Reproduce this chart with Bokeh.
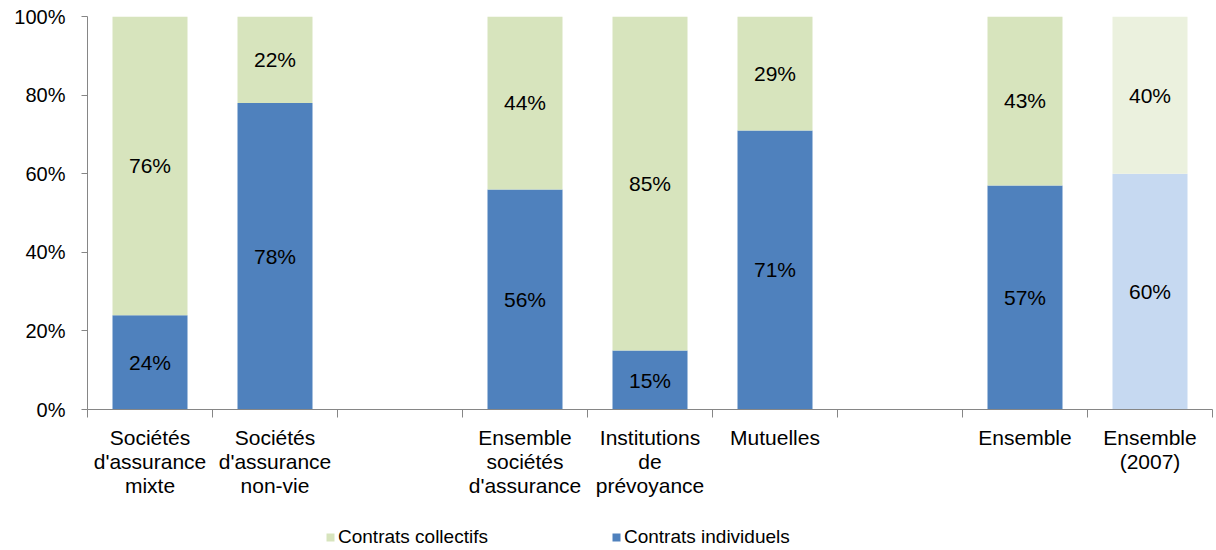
from bokeh.plotting import figure
from bokeh.layouts import column
from bokeh.models import (ColumnDataSource, Range1d, FixedTicker, LinearAxis,
                          Legend, LegendItem)
from bokeh.core.properties import value
from bokeh.embed import file_html
from bokeh.resources import INLINE

# Slots 0..8 on the x axis; slots 2 and 6 are left empty as separators
positions = [0, 1, 3, 4, 5, 7, 8]
categories = ["Sociétés\nd'assurance\nmixte", "Sociétés\nd'assurance\nnon-vie",
              "Ensemble\nsociétés\nd'assurance", "Institutions\nde\nprévoyance",
              "Mutuelles", "Ensemble", "Ensemble\n(2007)"]
individuels = [24, 78, 56, 15, 71, 57, 60]
collectifs = [76, 22, 44, 85, 29, 43, 40]

BLUE, GREEN = "#4F81BD", "#D7E4BD"
BLUE_2007, GREEN_2007 = "#C6D9F1", "#EBF1DE"
FONT = "Liberation Sans"

ind_colors = [BLUE] * 6 + [BLUE_2007]
col_colors = [GREEN] * 6 + [GREEN_2007]

src_ind = ColumnDataSource(dict(
    x=positions, bottom=[0] * len(positions), top=individuels, color=ind_colors,
    mid=[v / 2 for v in individuels], label=[f"{v}%" for v in individuels]))
src_col = ColumnDataSource(dict(
    x=positions, bottom=individuels,
    top=[a + b for a, b in zip(individuels, collectifs)], color=col_colors,
    mid=[a + b / 2 for a, b in zip(individuels, collectifs)],
    label=[f"{v}%" for v in collectifs]))

p = figure(width=1216, height=510, output_backend="svg", toolbar_location=None,
           x_range=Range1d(-0.5, 8.5), y_range=Range1d(0, 100),
           x_axis_type=None, y_axis_type=None,
           min_border_left=87, min_border_right=4, min_border_top=16,
           min_border_bottom=101)
p.outline_line_color = None
p.background_fill_color = "white"
p.border_fill_color = "white"

# Y axis with percent labels
yaxis = LinearAxis(ticker=FixedTicker(ticks=[0, 20, 40, 60, 80, 100]))
yaxis.major_label_overrides = {t: f"{t}%" for t in [0, 20, 40, 60, 80, 100]}
yaxis.axis_line_color = "#868686"
yaxis.major_tick_line_color = "#868686"
yaxis.major_tick_out = 6
yaxis.major_tick_in = 0
yaxis.minor_tick_line_color = None
yaxis.major_label_standoff = 16
yaxis.major_label_text_font = FONT
yaxis.major_label_text_font_size = "20px"
yaxis.major_label_text_color = "black"
p.add_layout(yaxis, "left")

# X axis: labels at slot centers, tick marks at slot boundaries
xaxis = LinearAxis(ticker=FixedTicker(ticks=positions,
                                      minor_ticks=[i - 0.5 for i in range(10)]))
xaxis.major_label_overrides = {pos: lab for pos, lab in zip(positions, categories)}
xaxis.axis_line_color = "#868686"
xaxis.major_tick_line_color = None
xaxis.major_tick_out = 0
xaxis.major_tick_in = 0
xaxis.minor_tick_line_color = "#868686"
xaxis.minor_tick_out = 8
xaxis.minor_tick_in = 0
xaxis.major_label_standoff = 8
xaxis.major_label_text_font = FONT
xaxis.major_label_text_font_size = "21px"
xaxis.major_label_text_line_height = 1.05
xaxis.major_label_text_color = "black"
p.add_layout(xaxis, "below")

p.ygrid.ticker = FixedTicker(ticks=[20, 40, 60, 80, 100])
p.ygrid.grid_line_color = "#808080"
p.ygrid.grid_line_dash = "1 2"
p.ygrid.grid_line_width = 1
p.xgrid.grid_line_color = None

p.vbar(x="x", bottom="bottom", top="top", width=0.6, source=src_ind,
       fill_color="color", line_color=None)
p.vbar(x="x", bottom="bottom", top="top", width=0.6, source=src_col,
       fill_color="color", line_color=None)

for src in (src_ind, src_col):
    p.text(x="x", y="mid", text="label", source=src, text_align="center",
           text_baseline="middle", text_font=value(FONT),
           text_font_size="21px", text_color="black")

# Legend strip under the chart; its swatches come from the same sources
lg = figure(width=1216, height=40, output_backend="svg", toolbar_location=None,
            x_axis_type=None, y_axis_type=None, min_border=0,
            x_range=Range1d(-0.5, 8.5), y_range=Range1d(0, 100))
lg.outline_line_color = None
lg.xgrid.visible = False
lg.ygrid.visible = False
k_ind = lg.vbar(x="x", bottom="bottom", top="top", width=0.6, source=src_ind,
                fill_color="color", line_color=None, visible=False)
k_col = lg.vbar(x="x", bottom="bottom", top="top", width=0.6, source=src_col,
                fill_color="color", line_color=None, visible=False)

legend = Legend(items=[LegendItem(label="Contrats collectifs", renderers=[k_col], index=0),
                       LegendItem(label="Contrats individuels", renderers=[k_ind], index=0)],
                orientation="horizontal", location=(238, 2),
                glyph_width=10, glyph_height=10, label_standoff=3,
                label_width=0, spacing=123, label_height=20,
                padding=0, border_line_color=None, background_fill_alpha=0,
                inactive_fill_alpha=0,
                label_text_font=FONT, label_text_font_size="19px",
                label_text_color="black")
lg.add_layout(legend, "center")

open("out.html", "w").write(file_html(column(p, lg, spacing=0), INLINE))
